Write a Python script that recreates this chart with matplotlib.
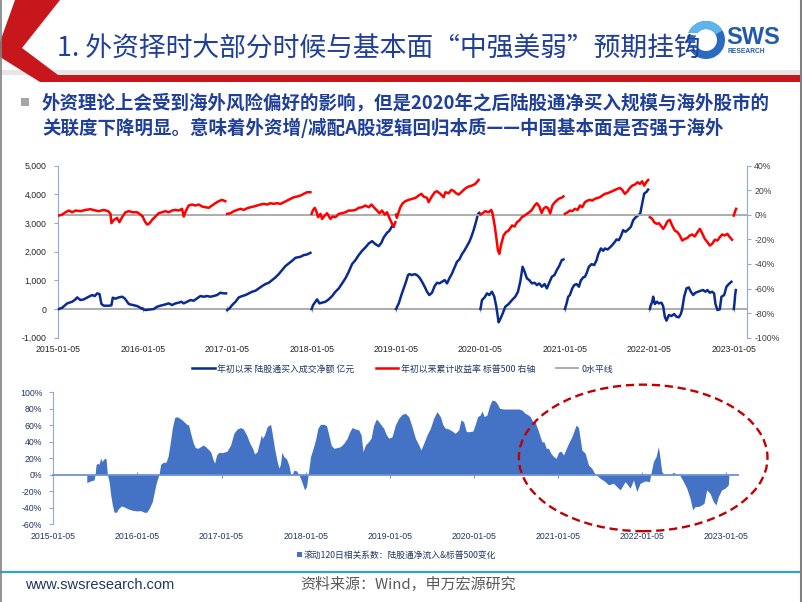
import numpy as np
import matplotlib
matplotlib.use("Agg")
import matplotlib.pyplot as plt
from matplotlib.patches import Ellipse, Polygon, Rectangle, Wedge, Patch
from matplotlib.lines import Line2D
from matplotlib.transforms import Affine2D
from matplotlib.ticker import FuncFormatter

plt.rcParams['font.family'] = ['Liberation Sans', 'Noto Sans CJK SC', 'DejaVu Sans']
CJK = ['Noto Sans CJK SC', 'DejaVu Sans']

# ---------------- data ----------------
YEARS = [2015, 2016, 2017, 2018, 2019, 2020, 2021, 2022, 2023]
XLABELS = ['2015-01-05', '2016-01-05', '2017-01-05', '2018-01-05', '2019-01-05',
           '2020-01-05', '2021-01-05', '2022-01-05', '2023-01-05']

# YTD cumulative northbound net buy (亿元): (fraction of year after Jan-05, value)
NB_2015 = [(0.006,0),(0.046,46),(0.105,197),(0.164,255),(0.204,337),(0.223,406),(0.263,313),(0.302,337),(0.361,430),(0.401,488),(0.432,453),(0.460,546),(0.488,522),(0.511,174),(0.539,116),(0.598,116),(0.629,130),(0.645,395),(0.677,360),(0.716,406),(0.756,430),(0.787,371),(0.835,174),(0.882,139),(0.934,104),(0.985,23)]
NB_2016 = [(0.000,0),(0.032,-35),(0.091,-12),(0.131,0),(0.170,81),(0.209,116),(0.269,162),(0.308,197),(0.347,139),(0.387,197),(0.426,221),(0.458,255),(0.485,197),(0.525,255),(0.565,313),(0.604,290),(0.643,371),(0.683,453),(0.722,430),(0.761,453),(0.801,430),(0.840,453),(0.880,488),(0.919,569),(0.959,546),(0.987,546)]
NB_2017 = [(0.000,-35),(0.028,23),(0.059,139),(0.099,255),(0.138,406),(0.178,453),(0.217,488),(0.256,546),(0.296,604),(0.335,639),(0.375,720),(0.414,801),(0.453,871),(0.493,917),(0.533,1010),(0.572,1103),(0.611,1219),(0.651,1358),(0.690,1498),(0.730,1591),(0.769,1683),(0.809,1788),(0.868,1823),(0.907,1881),(0.947,1904),(0.986,1962)]
NB_2018 = [(0.000,0),(0.018,139),(0.045,255),(0.065,337),(0.093,197),(0.124,221),(0.164,255),(0.203,337),(0.243,453),(0.282,604),(0.322,720),(0.361,894),(0.400,1068),(0.440,1300),(0.479,1567),(0.519,1707),(0.558,1881),(0.598,2032),(0.637,2148),(0.677,2287),(0.716,2368),(0.755,2264),(0.795,2194),(0.826,2310),(0.854,2496),(0.893,2659),(0.921,2729),(0.953,2891),(0.972,2870)]
NB_2019 = [(0.000,0),(0.032,197),(0.063,488),(0.091,720),(0.118,952),(0.142,1184),(0.158,1219),(0.189,1184),(0.221,1219),(0.248,1184),(0.276,1103),(0.308,952),(0.339,778),(0.367,604),(0.394,488),(0.426,569),(0.457,801),(0.485,917),(0.513,894),(0.544,952),(0.576,1010),(0.604,894),(0.631,1068),(0.663,1242),(0.694,1452),(0.722,1649),(0.750,1730),(0.781,1916),(0.813,2055),(0.840,2194),(0.868,2345),(0.892,2520),(0.919,2752),(0.947,3042),(0.970,3309),(0.986,3355)]
NB_2020 = [(0.000,0),(0.018,313),(0.049,406),(0.077,546),(0.105,488),(0.136,604),(0.164,430),(0.187,93),(0.215,-464),(0.235,-348),(0.262,-163),(0.294,81),(0.333,174),(0.373,313),(0.412,430),(0.444,604),(0.471,952),(0.499,1474),(0.523,1300),(0.550,1068),(0.578,1010),(0.609,894),(0.641,917),(0.668,836),(0.696,894),(0.727,778),(0.759,871),(0.786,720),(0.814,917),(0.845,1126),(0.876,1184),(0.904,1358),(0.932,1498),(0.963,1707),(0.983,1730)]
NB_2021 = [(0.000,0),(0.020,197),(0.039,430),(0.059,488),(0.087,720),(0.110,836),(0.138,871),(0.166,778),(0.189,1000),(0.217,1103),(0.237,1126),(0.256,1242),(0.284,1474),(0.316,1567),(0.347,1532),(0.375,1707),(0.395,1916),(0.426,2113),(0.454,2032),(0.473,2113),(0.505,2078),(0.533,2148),(0.560,2229),(0.592,2345),(0.611,2427),(0.639,2403),(0.663,2543),(0.690,2752),(0.718,2694),(0.750,2775),(0.781,2868),(0.809,3100),(0.836,3193),(0.868,3274),(0.892,3332),(0.915,3680),(0.939,4029),(0.967,4087),(0.986,4168)]
NB_2022 = [(0.006,0),(0.018,139),(0.034,255),(0.045,430),(0.065,174),(0.089,255),(0.112,197),(0.144,221),(0.164,93),(0.183,-267),(0.203,-406),(0.231,-209),(0.262,-244),(0.294,-174),(0.321,-267),(0.349,-290),(0.373,-174),(0.389,0),(0.412,430),(0.440,720),(0.467,755),(0.491,604),(0.519,488),(0.546,569),(0.578,604),(0.609,639),(0.637,662),(0.665,604),(0.688,662),(0.716,569),(0.744,604),(0.767,546),(0.783,174),(0.807,-35),(0.834,-12),(0.854,430),(0.886,488),(0.913,778),(0.941,871),(0.972,952)]
NB_2023 = [(0.000,0),(0.008,197),(0.016,488),(0.024,662)]

# S&P 500 YTD return (%), right axis
SPX_2015 = [(0.006,-0.6),(0.046,0.2),(0.085,2.1),(0.125,3.5),(0.164,2.1),(0.204,3.5),(0.263,3.0),(0.322,4.0),(0.381,4.6),(0.440,3.5),(0.480,3.0),(0.539,4.0),(0.590,3.0),(0.618,0.8),(0.629,-6.8),(0.657,-4.1),(0.696,-2.5),(0.724,-6.0),(0.756,-1.9),(0.795,2.1),(0.835,3.0),(0.882,2.1),(0.934,2.1),(0.961,0.8),(0.985,-0.5)]
SPX_2016 = [(0.000,-1.5),(0.024,-5.2),(0.052,-7.9),(0.079,-7.0),(0.111,-4.1),(0.150,-1.4),(0.189,1.3),(0.229,2.1),(0.269,3.0),(0.308,2.1),(0.347,3.5),(0.387,4.0),(0.426,3.5),(0.466,4.9),(0.485,-1.4),(0.513,3.5),(0.544,7.6),(0.584,8.4),(0.623,7.6),(0.663,8.4),(0.702,6.8),(0.742,6.2),(0.781,5.7),(0.820,7.6),(0.860,9.5),(0.899,11.1),(0.939,12.2),(0.978,11.1)]
SPX_2017 = [(0.000,0.8),(0.039,1.3),(0.079,3.0),(0.118,4.0),(0.158,4.9),(0.197,4.0),(0.237,5.4),(0.276,6.2),(0.316,6.8),(0.355,7.6),(0.394,8.4),(0.434,8.9),(0.473,8.4),(0.513,9.5),(0.552,8.9),(0.592,9.5),(0.631,8.9),(0.671,10.3),(0.710,11.6),(0.750,13.0),(0.789,14.3),(0.828,14.9),(0.868,15.7),(0.907,17.1),(0.947,18.4),(0.986,18.4)]
SPX_2018 = [(0.000,0.8),(0.014,3.5),(0.037,5.7),(0.053,3.5),(0.077,-1.9),(0.105,0.8),(0.124,-3.3),(0.156,-0.6),(0.183,1.3),(0.223,-3.3),(0.250,-1.4),(0.282,-1.9),(0.322,0.8),(0.361,1.3),(0.400,2.1),(0.440,3.5),(0.479,3.5),(0.519,4.0),(0.558,5.7),(0.598,6.2),(0.637,7.6),(0.677,6.2),(0.708,8.4),(0.736,6.2),(0.775,3.5),(0.803,1.3),(0.834,3.5),(0.866,0.2),(0.893,2.1),(0.921,-2.5),(0.953,-7.3),(0.972,-9.5),(0.992,-6.0)]
SPX_2019 = [(0.000,0.1),(0.010,-2.4),(0.024,0.8),(0.051,6.2),(0.079,9.5),(0.110,11.1),(0.150,12.2),(0.189,13.0),(0.229,13.8),(0.268,15.7),(0.300,17.1),(0.327,14.9),(0.367,13.8),(0.386,10.3),(0.418,14.3),(0.458,18.4),(0.485,19.2),(0.525,17.1),(0.564,14.3),(0.584,18.4),(0.623,17.6),(0.655,20.3),(0.682,19.5),(0.710,17.6),(0.742,16.5),(0.773,18.4),(0.801,20.3),(0.828,21.9),(0.860,23.0),(0.899,23.8),(0.939,25.2),(0.978,28.4)]
SPX_2020 = [(0.000,0.2),(0.026,1.3),(0.057,3.0),(0.097,2.1),(0.128,4.0),(0.144,0.8),(0.168,-8.7),(0.187,-18.2),(0.207,-29.0),(0.223,-31.7),(0.247,-23.6),(0.274,-16.8),(0.302,-14.1),(0.333,-12.8),(0.373,-8.7),(0.404,-9.5),(0.432,-6.0),(0.460,-4.6),(0.491,-1.9),(0.523,-0.6),(0.550,0.8),(0.578,2.1),(0.609,4.0),(0.641,7.6),(0.668,9.5),(0.696,7.0),(0.724,1.5),(0.747,5.0),(0.775,6.5),(0.799,5.5),(0.826,1.2),(0.854,8.0),(0.885,10.5),(0.924,13.0),(0.963,14.0),(0.983,15.0)]
SPX_2021 = [(0.000,0.8),(0.032,2.1),(0.059,3.5),(0.087,3.0),(0.118,4.9),(0.150,4.0),(0.178,7.6),(0.205,6.2),(0.237,10.3),(0.268,11.6),(0.296,12.2),(0.323,11.6),(0.355,13.0),(0.387,13.8),(0.414,14.3),(0.442,15.7),(0.473,17.1),(0.505,17.6),(0.533,18.4),(0.560,19.2),(0.592,20.3),(0.623,21.1),(0.651,21.9),(0.679,20.3),(0.710,17.1),(0.742,19.2),(0.769,21.9),(0.797,23.8),(0.828,24.6),(0.860,26.5),(0.888,25.2),(0.915,27.3),(0.939,23.8),(0.963,26.5),(0.986,28.4)]
SPX_2022 = [(0.006,-1.9),(0.034,-3.3),(0.057,-6.0),(0.085,-7.3),(0.112,-6.8),(0.136,-8.7),(0.164,-11.4),(0.183,-9.5),(0.215,-5.2),(0.243,-4.1),(0.270,-8.7),(0.302,-12.8),(0.333,-14.1),(0.361,-16.8),(0.389,-20.9),(0.420,-19.6),(0.452,-18.7),(0.479,-16.8),(0.507,-16.0),(0.538,-17.6),(0.570,-14.1),(0.598,-11.4),(0.625,-14.9),(0.657,-19.6),(0.688,-22.2),(0.716,-25.0),(0.744,-23.6),(0.775,-20.3),(0.807,-20.9),(0.834,-18.2),(0.862,-16.0),(0.893,-16.8),(0.925,-15.5),(0.953,-18.2),(0.980,-20.3)]
SPX_2023 = [(0.000,-0.6),(0.016,3.0),(0.028,4.9)]

# Rolling 120-day correlation (%): (years after 2015-01-05, value)
CORR = [(0.398,-9.7),(0.425,-8.5),(0.453,-7.3),(0.485,-6.5),(0.496,0),(0.508,11.8),(0.524,13.8),(0.544,12.6),(0.564,20.6),(0.576,15.8),(0.592,17.8),(0.611,19.9),(0.627,19.0),(0.643,0),(0.663,-8.5),(0.682,-24.6),(0.702,-36.8),(0.722,-45.7),(0.750,-45.7),(0.773,-41.6),(0.809,-38.0),(0.849,-39.6),(0.888,-41.6),(0.940,-43.3),(0.991,-44.1),(1.039,-43.7),(1.078,-45.7),(1.110,-45.7),(1.141,-40.9),(1.177,-32.8),(1.205,-18.6),(1.228,-8.5),(1.256,0),(1.276,12.6),(1.307,15.0),(1.339,15.0),(1.363,21.9),(1.386,36.0),(1.414,56.3),(1.442,69.2),(1.466,70.4),(1.505,68.4),(1.545,65.1),(1.585,61.1),(1.608,60.3),(1.632,50.2),(1.664,38.0),(1.688,32.8),(1.719,31.9),(1.751,34.0),(1.782,36.0),(1.810,34.0),(1.838,31.1),(1.869,27.9),(1.901,17.8),(1.917,13.8),(1.941,23.9),(1.968,27.1),(2.008,26.7),(2.048,27.9),
        (2.067,28.7),(2.107,36.0),(2.146,50.2),(2.186,55.5),(2.226,57.1),(2.257,55.5),(2.297,48.2),(2.336,38.0),(2.368,32.0),(2.392,25.1),(2.423,27.9),(2.455,40.9),(2.471,48.2),(2.487,44.1),(2.510,48.2),(2.542,58.3),(2.582,61.1),(2.601,50.2),(2.629,32.0),(2.661,15.8),(2.681,7.7),(2.700,12.6),(2.716,27.1),(2.740,21.9),(2.772,19.0),(2.799,11.8),(2.819,1.7),(2.839,0),(2.859,5.3),(2.891,4.5),(2.918,0),(2.938,-4.5),(2.966,-12.5),(2.986,-18.6),(3.009,-14.6),(3.029,0),(3.057,21.9),(3.088,32.0),(3.116,42.1),(3.144,56.3),(3.175,61.1),(3.215,61.1),(3.247,59.5),(3.274,48.2),(3.302,36.0),(3.333,32.0),(3.373,32.8),(3.412,34.0),(3.452,38.0),(3.492,44.1),(3.523,52.2),(3.551,57.1),(3.590,55.5),(3.630,54.3),(3.658,48.2),(3.681,27.9),(3.709,36.0),(3.748,40.1),(3.776,44.1),(3.808,60.3),(3.840,67.6),(3.868,64.3),(3.896,60.3),(3.927,56.3),(3.955,49.0),(3.987,44.1),
        (4.026,46.0),(4.065,60.3),(4.105,68.4),(4.144,73.2),(4.184,74.4),(4.224,70.4),(4.263,58.3),(4.303,44.1),(4.343,36.0),(4.370,30.0),(4.402,38.0),(4.441,48.2),(4.481,56.3),(4.520,68.4),(4.560,76.5),(4.600,70.4),(4.631,60.3),(4.659,56.3),(4.698,55.5),(4.738,53.0),(4.777,50.2),(4.817,54.2),(4.845,66.4),(4.876,64.3),(4.908,52.2),(4.948,52.2),(4.987,53.0),(5.015,61.1),(5.042,70.4),(5.074,72.4),(5.094,77.3),(5.122,70.4),(5.153,72.4),(5.185,83.8),(5.213,90.6),(5.252,89.4),(5.280,85.4),(5.304,80.5),(5.351,79.7),(5.411,79.7),(5.470,79.7),(5.529,79.7),(5.569,78.5),(5.608,74.4),(5.636,73.0),(5.668,70.4),(5.699,64.3),(5.727,63.5),(5.767,52.2),(5.806,40.1),(5.834,39.3),(5.858,32.0),(5.885,32.0),(5.913,25.9),(5.945,21.9),(5.976,19.8),(6.004,27.1),(6.032,28.7),
        (6.063,23.9),(6.123,38.0),(6.163,46.1),(6.214,60.3),(6.242,57.1),(6.281,30.0),(6.321,25.9),(6.360,11.7),(6.400,7.7),(6.439,0.4),(6.459,-1.0),(6.499,-4.5),(6.558,-8.5),(6.598,-12.5),(6.657,-10.5),(6.736,-18.6),(6.796,-8.5),(6.855,-16.6),(6.895,-6.5),(6.934,-20.6),(6.974,-10.5),(7.033,-7.7),(7.085,-8.5),(7.100,0.4),(7.132,15.8),(7.163,21.8),(7.191,34.0),(7.211,19.8),(7.231,3.6),(7.270,-1.2),(7.330,-0.5),(7.369,2.8),(7.409,0.4),(7.448,-1.2),(7.488,-8.5),(7.528,-16.6),(7.567,-28.7),(7.599,-42.9),(7.626,-38.8),(7.666,-38.8),(7.705,-36.8),(7.733,-34.8),(7.765,-18.6),(7.804,-22.7),(7.844,-32.8),(7.876,-36.8),(7.903,-26.7),(7.943,-18.6),(7.982,-16.6),(8.022,-12.5),(8.030,0)]

NB_SEGMENTS = [(2015, NB_2015), (2016, NB_2016), (2017, NB_2017), (2018, NB_2018), (2019, NB_2019),
               (2020, NB_2020), (2021, NB_2021), (2022, NB_2022), (2023, NB_2023)]
SPX_SEGMENTS = [(2015, SPX_2015), (2016, SPX_2016), (2017, SPX_2017), (2018, SPX_2018), (2019, SPX_2019),
                (2020, SPX_2020), (2021, SPX_2021), (2022, SPX_2022), (2023, SPX_2023)]

LEG_TOP = ['年初以来 陆股通买入成交净额 亿元', '年初以来累计收益率 标普500 右轴', '0水平线']
LEG_BOTTOM = '滚动120日相关系数：陆股通净流入&标普500变化'


def build(segments):
    xs, ys = [], []
    for year, seg in segments:
        for t, v in seg:
            xs.append(year + t)
            ys.append(v)
        xs.append(np.nan)
        ys.append(np.nan)
    return np.array(xs), np.array(ys)


nb_x, nb_y = build(NB_SEGMENTS)
spx_x, spx_y = build(SPX_SEGMENTS)
corr_x = np.array([2015 + t for t, _ in CORR])
corr_y = np.array([v for _, v in CORR])

# ---------------- figure ----------------
W, H = 802, 602
fig = plt.figure(figsize=(W / 100, H / 100), dpi=100)
PX = Affine2D().scale(1 / W, -1 / H).translate(0, 1) + fig.transFigure

BLUE = '#0B2C8F'
RED = '#FF0000'
GRAY = '#A6A6A6'
AXC = '#8FAADC'
AREA = '#4472C4'
TXT = '#1F3864'


def fax(l, t, r, b):
    return fig.add_axes([l / W, 1 - b / H, (r - l) / W, (b - t) / H])


# ---- top chart ----
ax = fax(58.3, 165.7, 746.7, 337.7)
ax.plot(nb_x, nb_y, color=BLUE, lw=1.8, zorder=3, solid_joinstyle='round')
ax.set_xlim(2015, 2023.153)
ax.set_ylim(-1000, 5000)
ax.set_yticks(range(-1000, 5001, 1000))
ax.yaxis.set_major_formatter(FuncFormatter(lambda v, p: f'{int(v):,}'))
ax.set_xticks(YEARS)
ax.set_xticklabels(XLABELS)
for s in ['right', 'bottom']:
    ax.spines[s].set_visible(False)
ax.spines['left'].set_color(AXC)
ax.spines['top'].set_position(('data', 0))
ax.spines['top'].set_color(GRAY)
ax.spines['top'].set_linewidth(1.3)
ax.tick_params(axis='x', top=True, bottom=False, labeltop=False, labelbottom=True,
               direction='inout', length=4, color=GRAY, labelsize=6.3, labelcolor='#262626', pad=3)
ax.tick_params(axis='y', direction='out', length=3, color=AXC, labelsize=6.3,
               labelcolor='#262626', pad=5.5)
ax.set_facecolor('none')

ax2 = ax.twinx()
ax2.axhline(0, color=GRAY, lw=1.3, zorder=2)
ax2.plot(spx_x, spx_y, color=RED, lw=1.8, zorder=3, solid_joinstyle='round')
ax2.set_ylim(-100, 40)
ax2.set_yticks(range(-100, 41, 20))
ax2.yaxis.set_major_formatter(FuncFormatter(lambda v, p: f'{int(v)}%'))
for s in ['top', 'bottom', 'left']:
    ax2.spines[s].set_visible(False)
ax2.spines['right'].set_color(AXC)
ax2.tick_params(axis='y', direction='out', length=3, color=AXC, labelsize=6.3,
                labelcolor='#404040', pad=2.4)

handles = [Line2D([], [], color=BLUE, lw=1.8), Line2D([], [], color=RED, lw=1.8),
           Line2D([], [], color=GRAY, lw=1.3)]
fig.legend(handles, LEG_TOP, loc='center', bbox_to_anchor=(402.5 / W, 1 - 369 / H), ncol=3,
           frameon=False, prop={'family': CJK, 'size': 6.4}, handlelength=2.5,
           handletextpad=0.3, columnspacing=2.4, labelcolor=TXT)

# ---- bottom chart ----
axb = fax(53.3, 392.3, 738, 524)
axb.fill_between(corr_x, corr_y, 0, color=AREA, lw=0, zorder=2)
axb.set_xlim(2015, 2023.137)
axb.set_ylim(-60, 100)
axb.set_yticks(range(-60, 101, 20))
axb.yaxis.set_major_formatter(FuncFormatter(lambda v, p: f'{int(v)}%'))
axb.set_xticks(YEARS)
axb.set_xticklabels(XLABELS)
for s in ['right', 'bottom']:
    axb.spines[s].set_visible(False)
axb.spines['left'].set_color(AXC)
axb.spines['top'].set_position(('data', 0))
axb.spines['top'].set_color('#6F93D3')
axb.spines['top'].set_linewidth(1.3)
axb.spines['top'].set_zorder(3)
axb.tick_params(axis='x', top=True, bottom=False, labeltop=False, labelbottom=True,
                direction='inout', length=4, color='#6F93D3', labelsize=6.3, labelcolor=TXT, pad=4)
axb.tick_params(axis='y', direction='out', length=3, color=AXC, labelsize=6.3,
                labelcolor=TXT, pad=5)

axb.add_patch(Ellipse((2022.01, 20.3), 2.955, 178, fill=False, edgecolor='#C00000', lw=1.7,
                      ls=(0, (3.5, 2.0)), clip_on=False, zorder=5))

fig.legend([Patch(facecolor=AREA, edgecolor='none')], [LEG_BOTTOM], loc='center',
           bbox_to_anchor=(396.5 / W, 1 - 555 / H), frameon=False,
           prop={'family': CJK, 'size': 6.3}, handlelength=0.55, handleheight=0.55,
           handletextpad=0.15, labelcolor=TXT)

# ---------------- slide decorations ----------------
RED_DECO = '#C8161D'
fig.add_artist(Polygon([(0, 70), (802, 70), (802, 75), (0, 75)], closed=True,
                       facecolor='#E6E6E6', edgecolor='none', transform=PX))
fig.add_artist(Polygon([(15, 0), (60, 0), (22, 48), (58, 75), (802, 75), (802, 82), (40, 82),
                        (0, 57), (0, 42)], closed=True, facecolor=RED_DECO, edgecolor='none',
                       transform=PX))

fig.text(57, 49, '1. 外资择时大部分时候与基本面“中强美弱”预期挂钩', transform=PX,
         fontsize=19.3, color='#1F3F99', va='center', ha='left', family=CJK)

# logo
fig.add_artist(Wedge((706, 40), 19, 0, 360, width=8, facecolor='#2A6BC0', edgecolor='none', transform=PX))
fig.add_artist(Wedge((706, 40), 19, 200, 330, width=8, facecolor='#5FB4EA', edgecolor='none', transform=PX))
for yy in (33, 38, 43, 48):
    fig.add_artist(Rectangle((684, yy), 14, 1.6, facecolor='white', edgecolor='none', transform=PX))
fig.text(726, 37, 'SWS', transform=PX, fontsize=17, fontweight='bold', color='#1F5BAA',
         va='center', ha='left', family=['Liberation Sans'])
fig.text(727, 51.5, 'RESEARCH', transform=PX, fontsize=4.8, fontweight='bold', color='#1F5BAA',
         va='center', ha='left', family=['Liberation Sans'])

# bullet text
fig.add_artist(Rectangle((21, 98), 8, 8, facecolor='#A6A6A6', edgecolor='none', transform=PX))
fig.text(42, 103, '外资理论上会受到海外风险偏好的影响，但是2020年之后陆股通净买入规模与海外股市的',
         transform=PX, fontsize=13.3, fontweight='bold', color='#1F3F99', va='center', ha='left',
         family=CJK)
fig.text(42, 128, '关联度下降明显。意味着外资增/减配A股逻辑回归本质——中国基本面是否强于海外',
         transform=PX, fontsize=13.3, fontweight='bold', color='#1F3F99', va='center', ha='left',
         family=CJK)

# footer
fig.add_artist(Line2D([0, 802], [572, 572], color='#31A3CB', lw=1.6, transform=PX))
fig.text(25, 585, 'www.swsresearch.com', transform=PX, fontsize=10.5, color=TXT,
         va='center', ha='left', family=['Liberation Sans'])
fig.text(300, 585, '资料来源：Wind，申万宏源研究', transform=PX, fontsize=10.8, color='#595959',
         va='center', ha='left', family=CJK)

# slide border
fig.add_artist(Line2D([0.7, 0.7], [0, 602], color='#808080', lw=1.2, transform=PX))
fig.add_artist(Line2D([800.5, 800.5], [0, 602], color='#808080', lw=1.5, transform=PX))

fig.savefig('out.png', dpi=100)
